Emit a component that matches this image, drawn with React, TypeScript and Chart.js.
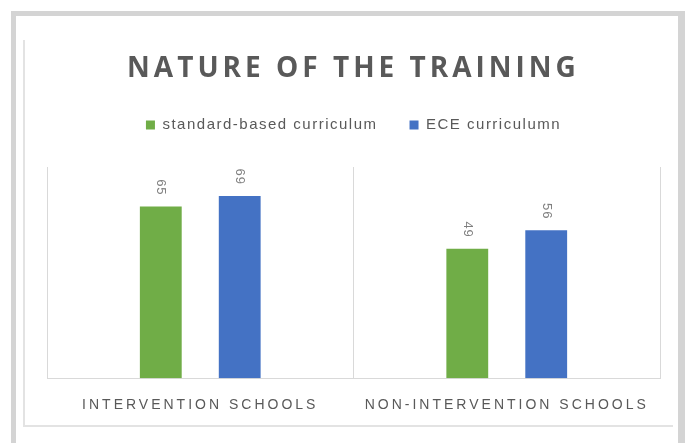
import React, { useEffect, useRef } from 'react';
import { Chart, registerables } from 'chart.js';

Chart.register(...registerables);

const titleText = 'NATURE OF THE TRAINING';
const categories = ['INTERVENTION SCHOOLS', 'NON-INTERVENTION SCHOOLS'];
const seriesNames = ['standard-based curriculum', 'ECE curriculumn'];
const standardValues = [65, 49];
const eceValues = [69, 56];
const seriesColors = ['#70AD47', '#4472C4'];
const yMin = 0;
const yMax = 80;

const TEXT_GRAY = '#595959';
const GRID_GRAY = '#d9d9d9';

function withSpacing(chart: any, obj: any, method: string, spacing: string, after?: (o: any) => void) {
  if (!obj || typeof obj[method] !== 'function') return;
  const orig = obj[method].bind(obj);
  obj[method] = (...args: any[]) => {
    const ctx = chart.ctx as any;
    const prev = ctx.letterSpacing;
    ctx.letterSpacing = spacing;
    let r;
    try {
      r = orig(...args);
    } finally {
      ctx.letterSpacing = prev || '0px';
    }
    if (after) after(obj);
    return r;
  };
}

const valueLabelPlugin = {
  id: 'valueLabels',
  afterDatasetsDraw(chart: any) {
    const ctx = chart.ctx as any;
    ctx.save();
    ctx.font = '13px "Liberation Sans", Arial, sans-serif';
    ctx.fillStyle = '#7f7f7f';
    ctx.letterSpacing = '1px';
    chart.data.datasets.forEach((ds: any, di: number) => {
      const meta = chart.getDatasetMeta(di);
      meta.data.forEach((bar: any, i: number) => {
        const v = ds.data[i];
        ctx.save();
        ctx.translate(bar.x, bar.y - 11);
        ctx.rotate(Math.PI / 2);
        ctx.textAlign = 'right';
        ctx.textBaseline = 'middle';
        ctx.fillText(String(v), 0, 0);
        ctx.restore();
      });
    });
    ctx.restore();
  },
};

export default function App() {
  const canvasRef = useRef<HTMLCanvasElement | null>(null);

  useEffect(() => {
    if (!canvasRef.current) return;
    const chart: any = new Chart(canvasRef.current, {
      type: 'bar',
      data: {
        labels: categories,
        datasets: [
          {
            label: seriesNames[0],
            data: standardValues,
            backgroundColor: seriesColors[0],
            borderWidth: 0,
            categoryPercentage: 0.515,
            barPercentage: 0.53,
          },
          {
            label: seriesNames[1],
            data: eceValues,
            backgroundColor: seriesColors[1],
            borderWidth: 0,
            categoryPercentage: 0.515,
            barPercentage: 0.53,
          },
        ],
      },
      options: {
        animation: false,
        responsive: true,
        maintainAspectRatio: false,
        layout: { padding: { top: 0, left: 47, right: 25, bottom: 10 } },
        plugins: {
          title: {
            display: true,
            text: titleText,
            color: TEXT_GRAY,
            font: { family: '"Open Sans", sans-serif', size: 28, weight: 'bold', lineHeight: 1.2 },
            padding: { top: 52, bottom: 0 },
          },
          legend: {
            display: true,
            position: 'top',
            labels: {
              boxWidth: 9,
              boxHeight: 9,
              padding: 32,
              color: TEXT_GRAY,
              font: { family: '"Liberation Sans", Arial, sans-serif', size: 15 },
            },
          },
          tooltip: { enabled: false },
        },
        scales: {
          x: {
            grid: { display: true, color: GRID_GRAY, lineWidth: 1, drawTicks: false, offset: true },
            border: { display: true, color: GRID_GRAY, width: 1 },
            ticks: {
              color: TEXT_GRAY,
              font: { family: '"Liberation Sans", Arial, sans-serif', size: 14 },
              padding: 19,
              autoSkip: false,
              maxRotation: 0,
              minRotation: 0,
            },
          },
          y: {
            display: false,
            min: yMin,
            max: yMax,
          },
        },
      },
      plugins: [valueLabelPlugin],
    });

    withSpacing(chart, chart.titleBlock, 'draw', '4px');
    withSpacing(chart, chart.legend, 'fit', '1.5px', (lg: any) => {
      lg.height += 24.4;
    });
    withSpacing(chart, chart.legend, 'draw', '1.5px');
    withSpacing(chart, chart.scales.x, 'drawLabels', '3px');
    chart.update();

    return () => chart.destroy();
  }, []);

  return (
    <div style={{ position: 'absolute', left: 0, top: 0, width: 685, height: 443, background: '#ffffff', overflow: 'hidden' }}>
      <div
        style={{
          position: 'absolute',
          left: 11,
          top: 11,
          width: 662,
          height: 440,
          borderLeft: '5px solid #d4d4d4',
          borderTop: '5px solid #d4d4d4',
          borderRight: '7px solid #d4d4d4',
        }}
      />
      <div
        style={{
          position: 'absolute',
          left: 23,
          top: 40,
          width: 648,
          height: 385,
          borderLeft: '2px solid #e3e3e3',
          borderBottom: '2px solid #e3e3e3',
        }}
      />
      <div style={{ position: 'absolute', left: 0, top: 0, width: 685, height: 443 }}>
        <canvas ref={canvasRef} />
      </div>
    </div>
  );
}
